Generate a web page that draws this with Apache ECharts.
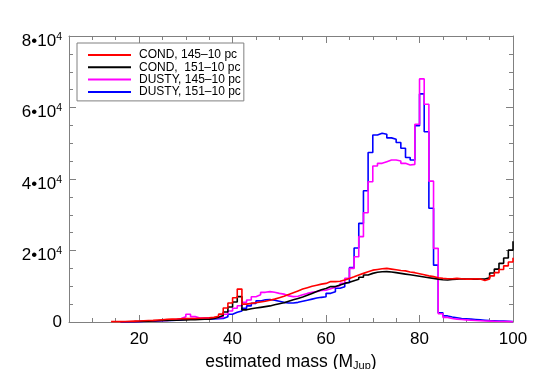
<!DOCTYPE html>
<html>
<head>
<meta charset="utf-8">
<script src="https://cdn.jsdelivr.net/npm/echarts@6/dist/echarts.min.js"></script>
<style>
html,body{margin:0;padding:0;background:#fff;}
#chart{width:554px;height:369px;}
</style>
</head>
<body>
<div id="chart"></div>
<script>
// Bin left edges (M_Jup); the final entry (100) is the right edge of the last bin
const binEdges = [14,15,16,17,18,19,20,21,22,23,24,25,26,27,28,29,30,31,32,33,34,35,36,37,38,39,40,41,42,43,44,45,46,47,48,49,50,51,52,53,54,55,56,57,58,59,60,61,62,63,64,65,66,67,68,69,70,71,72,73,74,75,76,77,78,79,80,81,82,83,84,85,86,87,88,89,90,91,92,93,94,95,96,97,98,99,100];

const seriesNames = ['COND, 145\u201310 pc', 'COND,  151\u201310 pc', 'DUSTY, 145\u201310 pc', 'DUSTY, 151\u201310 pc'];

const cond145 = [100,100,150,200,250,300,350,400,450,550,650,750,800,850,900,950,1000,1000,1050,1100,1150,1300,1600,2200,3900,5300,6800,9200,5000,5200,5400,5600,5800,6100,6400,6800,7200,7700,8200,8700,9200,9600,10000,10300,10600,10800,11300,11300,11400,11750,12200,12650,13150,13600,14050,14500,14700,14900,15000,14800,14600,14400,14300,14000,13800,13500,13200,12900,12700,12400,12200,12100,12100,12200,12100,12000,12000,12100,12000,11600,12000,12900,13800,14700,15700,16800,18000];

const cond151 = [null,null,50,80,100,150,200,250,300,350,400,450,500,500,550,600,650,650,700,750,800,1000,1300,1800,2800,4200,5600,7100,3400,3700,3900,4100,4300,4500,4800,5100,5400,5800,6200,6600,7000,7500,8000,8500,9000,9400,9900,9900,10350,10800,11100,11560,11940,12500,13150,13600,13900,14050,14100,14000,13800,13600,13400,13200,13000,12800,12600,12400,12200,12000,11800,11750,11900,12000,12100,12000,12000,12000,12000,12000,12400,13700,14800,16400,17900,20100,22600];

const dusty145 = [null,null,50,80,100,150,200,250,300,350,400,450,550,700,1000,1500,2150,1500,1100,1100,1150,1200,1200,1300,2150,3080,3830,4560,5500,6150,7080,7600,8300,8500,8300,8000,7800,7300,7100,7200,7600,8000,8300,8500,8800,8900,9300,9700,10200,10800,12200,15000,18270,23870,30580,39250,43630,44380,44840,45300,45300,45030,44380,43900,44100,55300,68000,60900,39400,20600,2300,1300,1000,800,700,600,500,400,350,300,250,200,150,120,100,80,80];

const dusty151 = [null,null,30,50,80,100,150,200,250,300,350,400,450,500,600,750,900,800,750,750,800,850,900,1000,1500,2150,2700,3100,3800,4500,5200,5900,6200,6300,6100,5800,5500,5300,5300,5500,5800,6100,6400,6700,6900,7080,8020,8480,9420,9890,11000,15200,20700,27600,36700,47400,52300,52800,52500,51500,51100,50200,48600,46000,45300,54900,63800,53200,31800,15900,2600,1700,1400,1200,1000,900,800,700,600,500,400,350,300,250,200,150,150];

const seriesValues = [cond145, cond151, dusty145, dusty151];
const seriesColors = ['#ff0000', '#000000', '#ff00ff', '#0000ff'];

const xTickLabels = [20, 40, 60, 80, 100];

const FONT = '"Liberation Sans", Arial, Helvetica, sans-serif';
const FRAME = '#808080';

function pairs(vals) {
  return binEdges.map((e, i) => [e, vals[i]]);
}

const chart = echarts.init(document.getElementById('chart'), null, {renderer: 'canvas'});

const grid = {left: 69, right: 41, top: 36, bottom: 47, containLabel: false, outerBoundsMode: 'none'};

function xAxisBase(extra) {
  return Object.assign({
    type: 'value', min: 5, max: 100, interval: 5,
    splitLine: {show: false},
    axisLine: {show: false},
    axisLabel: {show: false},
    axisTick: {show: true, inside: true, length: 4, lineStyle: {color: FRAME, width: 1}}
  }, extra);
}

const option = {
  animation: false,
  backgroundColor: '#ffffff',
  textStyle: {fontFamily: FONT},
  grid: grid,
  legend: {
    orient: 'vertical',
    left: 77, top: 43,
    padding: [6, 3, 3, 11],
    borderColor: FRAME, borderWidth: 1,
    icon: 'rect',
    itemWidth: 43, itemHeight: 2, itemGap: 0.3,
    data: seriesNames,
    textStyle: {fontSize: 12, fontFamily: FONT, color: '#000', lineHeight: 12, padding: [0, 0, 0, 3]}
  },
  xAxis: [
    xAxisBase({
      position: 'bottom',
      axisLine: {show: true, lineStyle: {color: FRAME, width: 1}},
      axisTick: {show: true, inside: true, length: 7, customValues: xTickLabels, lineStyle: {color: FRAME, width: 1}},
      axisLabel: {show: true, customValues: xTickLabels, margin: 9, fontSize: 17, color: '#000', fontFamily: FONT},
      name: 'estimated mass (M{sub|Jup})',
      nameLocation: 'middle',
      nameGap: 22,
      nameTextStyle: {
        fontSize: 17.5, color: '#000', fontFamily: FONT,
        rich: {sub: {fontSize: 11, fontFamily: FONT, color: '#000', padding: [8, 0, 0, 0]}}
      }
    }),
    xAxisBase({position: 'bottom'}),
    xAxisBase({
      position: 'top',
      axisLine: {show: true, lineStyle: {color: FRAME, width: 1}},
      axisTick: {show: true, inside: true, length: 7, customValues: xTickLabels, lineStyle: {color: FRAME, width: 1}}
    }),
    xAxisBase({position: 'top'})
  ],
  yAxis: [
    {
      type: 'value', min: 0, max: 80000, interval: 20000, position: 'left',
      splitLine: {show: false},
      axisLine: {show: true, lineStyle: {color: FRAME, width: 1}},
      axisTick: {show: true, inside: true, length: 7, lineStyle: {color: FRAME, width: 1}},
      minorTick: {show: true, splitNumber: 4, length: 4, lineStyle: {color: FRAME, width: 1}},
      axisLabel: {
        margin: 7, color: '#000', fontSize: 17, fontFamily: FONT,
        formatter: function (v) {
          if (v === 0) return '0';
          return '{m|' + (v / 10000) + '\u202210}{s|4}';
        },
        rich: {
          m: {fontSize: 17, lineHeight: 17, fontFamily: FONT, color: '#000', padding: [10, 0, 0, 0]},
          s: {fontSize: 10.5, lineHeight: 10, fontFamily: FONT, color: '#000', padding: [2, 0, 0, 0]}
        }
      }
    },
    {
      type: 'value', min: 0, max: 80000, interval: 20000, position: 'right',
      splitLine: {show: false},
      axisLine: {show: true, lineStyle: {color: FRAME, width: 1}},
      axisTick: {show: true, inside: true, length: 7, lineStyle: {color: FRAME, width: 1}},
      minorTick: {show: true, splitNumber: 4, length: 4, lineStyle: {color: FRAME, width: 1}},
      axisLabel: {show: false}
    }
  ],
  series: []
};

// draw order: blue, magenta, black, red (red on top); legend keeps original order
const drawOrder = [3, 2, 1, 0];
drawOrder.forEach(function (i) {
  option.series.push({
    name: seriesNames[i],
    type: 'line',
    step: 'end',
    xAxisIndex: 0,
    yAxisIndex: 0,
    symbol: 'none',
    showSymbol: false,
    connectNulls: false,
    color: seriesColors[i],
    lineStyle: {color: seriesColors[i], width: 1.6},
    data: pairs(seriesValues[i])
  });
});

chart.setOption(option);
</script>
</body>
</html>
